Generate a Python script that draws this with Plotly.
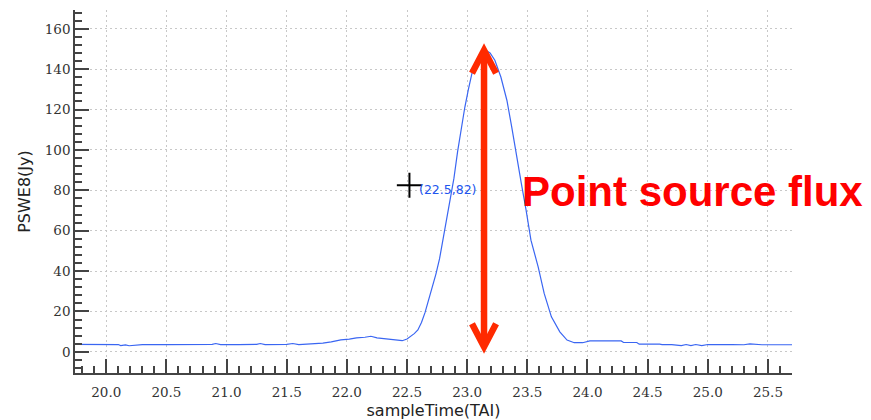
import plotly.graph_objects as go

# Messpunkte (Zeit in TAI, Fluss in Jy)
sample_time = [19.74, 19.90, 19.98, 20.02, 20.10, 20.12, 20.16, 20.19, 20.23, 20.30,
               20.50, 20.70, 20.88, 20.91, 20.95, 21.10, 21.25, 21.28, 21.32, 21.50,
               21.55, 21.60, 21.70, 21.80, 21.87, 21.95, 22.02, 22.08, 22.15, 22.20,
               22.25, 22.34, 22.42, 22.46, 22.50, 22.53, 22.56, 22.59, 22.62, 22.65,
               22.68, 22.71, 22.74, 22.77, 22.80, 22.83, 22.86, 22.89, 22.92, 22.95,
               22.98, 23.01, 23.04, 23.07, 23.10, 23.13, 23.16, 23.19, 23.23, 23.28,
               23.33, 23.37, 23.41, 23.45, 23.49, 23.53, 23.59, 23.64, 23.70, 23.77,
               23.83, 23.89, 23.96, 24.00, 24.02, 24.28, 24.30, 24.41, 24.43, 24.60,
               24.62, 24.70, 24.78, 24.82, 24.86, 24.90, 24.95, 25.00, 25.10, 25.15,
               25.20, 25.30, 25.35, 25.45, 25.50, 25.70]
pswe8 = [3.7, 3.7, 3.9, 3.7, 3.6, 3.1, 3.4, 3.0, 3.2, 3.6,
         3.6, 3.6, 3.7, 4.1, 3.6, 3.6, 3.7, 4.1, 3.6, 3.7,
         4.1, 3.6, 3.9, 4.3, 4.9, 5.9, 6.3, 6.9, 7.2, 7.7,
         6.9, 6.2, 5.8, 5.5, 6.3, 7.6, 9.0, 10.8, 14.5, 19.5,
         25.5, 32.0, 38.5, 46.0, 56.0, 66.0, 76.0, 86.0, 99.0, 111.0,
         121.0, 130.0, 138.0, 143.5, 146.5, 148.5, 149.2, 148.0, 144.4, 136.1,
         124.6, 111.4, 96.5, 83.4, 70.1, 55.3, 42.1, 28.9, 17.3, 9.9,
         5.8, 4.5, 4.5, 5.0, 5.4, 5.4, 4.6, 4.6, 3.8, 3.8,
         3.6, 3.6, 3.1, 3.6, 3.1, 3.6, 3.1, 3.6, 3.6, 3.9,
         3.6, 3.5, 3.9, 3.5, 3.5, 3.5]

x_ticks = [20.0, 20.5, 21.0, 21.5, 22.0, 22.5, 23.0, 23.5, 24.0, 24.5, 25.0, 25.5]
y_ticks = [0, 20, 40, 60, 80, 100, 120, 140, 160]

# Cursor und Pfeil (Annotationen)
cursor_pos = (22.52, 82.5)
cursor_label = "(22.5,82)"
arrow_x = 23.14
arrow_top = 149.4
arrow_bottom = 2.5
label_text = "Point source flux"

fig = go.Figure()

fig.add_trace(go.Scatter(x=sample_time, y=pswe8, mode="lines",
                         line=dict(color="#3a66f2", width=1.2),
                         showlegend=False, hoverinfo="skip"))

# Fadenkreuz
fig.add_trace(go.Scatter(x=[cursor_pos[0]], y=[cursor_pos[1]], mode="markers",
                         marker=dict(symbol="cross-thin", size=18,
                                     line=dict(color="black", width=2)),
                         showlegend=False, hoverinfo="skip"))
fig.add_annotation(x=cursor_pos[0], y=cursor_pos[1], text=cursor_label,
                   xref="x", yref="y", xanchor="left", yanchor="middle",
                   xshift=8, yshift=-4, showarrow=False,
                   font=dict(family="DejaVu Sans", size=12.5, color="#2255ee"))

# Roter Doppelpfeil
red = "#ff2a00"
dx = 0.1
dy = 11.4
fig.add_shape(type="line", x0=arrow_x, x1=arrow_x, y0=arrow_bottom + 1.5, y1=arrow_top - 1.5,
              xref="x", yref="y", line=dict(color=red, width=6.5))
fig.add_shape(type="path", xref="x", yref="y",
              path=f"M {arrow_x - dx},{arrow_top - dy} L {arrow_x},{arrow_top} L {arrow_x + dx},{arrow_top - dy}",
              line=dict(color=red, width=6.5))
fig.add_shape(type="path", xref="x", yref="y",
              path=f"M {arrow_x - dx},{arrow_bottom + dy} L {arrow_x},{arrow_bottom} L {arrow_x + dx},{arrow_bottom + dy}",
              line=dict(color=red, width=6.5))

fig.add_annotation(x=24.875, y=79.2, text=f"<b>{label_text}</b>", xref="x", yref="y",
                   xanchor="center", yanchor="middle", showarrow=False,
                   font=dict(family="Liberation Sans", size=42, color="#ff0000"))

grid = dict(gridcolor="#c8c8c8", gridwidth=1, griddash="2px,3px")

fig.update_layout(
    width=871, height=420,
    margin=dict(l=75, r=79, t=10, b=47),
    paper_bgcolor="white", plot_bgcolor="white",
    xaxis=dict(range=[19.74, 25.70], tickvals=x_ticks,
               ticktext=[f"{v:.1f}" for v in x_ticks],
               ticks="inside", ticklen=14, tickwidth=1.5, tickcolor="#444",
               showline=True, linecolor="#444", linewidth=1.5, zeroline=False,
               minor=dict(ticks="inside", ticklen=7, tickwidth=1.5, tickcolor="#444",
                          dtick=0.1, tick0=20.0, showgrid=False),
               tickfont=dict(family="DejaVu Serif", size=13.5, color="#333"),
               ticklabelstandoff=6, automargin=False,
               title=dict(text="sampleTime(TAI)", standoff=7,
                          font=dict(family="DejaVu Sans", size=16, color="#222")),
               **grid),
    yaxis=dict(range=[-10.5, 169.3], tickvals=y_ticks,
               ticks="inside", ticklen=14, tickwidth=1.5, tickcolor="#444",
               showline=True, linecolor="#444", linewidth=1.5, zeroline=False,
               minor=dict(ticks="inside", ticklen=7, tickwidth=1.5, tickcolor="#444",
                          dtick=4, tick0=0, showgrid=False),
               tickfont=dict(family="DejaVu Serif", size=13.5, color="#333"),
               automargin=False,
               title=dict(text="PSWE8(Jy)", standoff=10,
                          font=dict(family="DejaVu Sans", size=16, color="#222")),
               **grid),
)

# Browser-Standardrand entfernen, damit die Figur bei (0,0) beginnt
fig.write_html("out.html", config={"displayModeBar": False},
               post_script="document.body.style.margin='0';")
